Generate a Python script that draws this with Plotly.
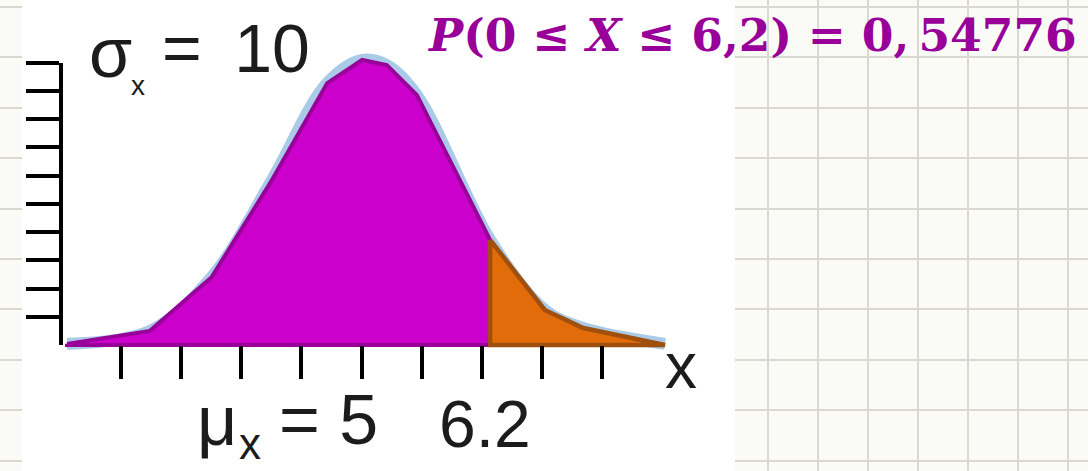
import plotly.graph_objects as go

# ---- data (x in tick units, y in y-tick units) ----
curve_x = [0.10, 1.48, 2.51, 3.51, 4.43, 5.01, 5.42, 5.92, 7.14, 8.05, 8.69, 10.05]
curve_y = [0.04, 0.50, 2.41, 5.84, 9.27, 10.09, 9.91, 8.85, 3.72, 1.24, 0.60, 0.04]
cut_x = 7.14
x_ticks = [1, 2, 3, 4, 5, 6, 7, 8, 9]
y_ticks = [1, 2, 3, 4, 5, 6, 7, 8, 9, 10]

sigma_label = "σ"
sigma_sub = "x"
sigma_value = "=\u00a0\u200910"
mu_label = "μ"
mu_sub = "x"
mu_value = "= 5"
cut_label = "6.2"
axis_label = "x"
prob_text = "<b><i>P</i>(0 ≤ <i>X</i> ≤ 6,2) = 0,\u200954776</b>"

W, H = 1088, 471
X0PX, XUNIT = 61.0, 60.1     # pixel of x=0, pixels per x unit
Y0PX, YUNIT = 345.0, 28.25   # pixel of y=0, pixels per y unit

left_x = [x for x in curve_x if x <= cut_x]
left_y = [y for x, y in zip(curve_x, curve_y) if x <= cut_x]
right_x = [x for x in curve_x if x >= cut_x]
right_y = [y for x, y in zip(curve_x, curve_y) if x >= cut_x]

fig = go.Figure()

# smooth light-blue reference curve underneath
fig.add_trace(go.Scatter(x=curve_x, y=curve_y, mode="lines",
                         line=dict(color="#a9cbe8", width=12, shape="spline", smoothing=1.0),
                         hoverinfo="skip"))
# purple region
fig.add_trace(go.Scatter(x=left_x + [cut_x, left_x[0], left_x[0]],
                         y=left_y + [0, 0, left_y[0]],
                         mode="lines", fill="toself", fillcolor="#cc00cc",
                         line=dict(color="#990099", width=4), hoverinfo="skip"))
# orange tail
fig.add_trace(go.Scatter(x=right_x + [right_x[-1], cut_x, cut_x],
                         y=right_y + [0, 0, right_y[0]],
                         mode="lines", fill="toself", fillcolor="#e36c0a",
                         line=dict(color="#a0500c", width=4.5), hoverinfo="skip"))
# y-axis carrier
fig.add_trace(go.Scatter(x=[None], y=[None], xaxis="x", yaxis="y2", hoverinfo="skip"))
# grid paper carriers
fig.add_trace(go.Scatter(x=[None], y=[None], xaxis="x3", yaxis="y3", hoverinfo="skip"))
fig.add_trace(go.Scatter(x=[None], y=[None], xaxis="x4", yaxis="y4", hoverinfo="skip"))

gridc = "#d9d9d2"
fig.update_layout(
    width=W, height=H, margin=dict(l=0, r=0, t=0, b=0),
    showlegend=False, paper_bgcolor="white", plot_bgcolor="rgba(0,0,0,0)",
    xaxis=dict(domain=[0, 1], range=[-X0PX / XUNIT, (W - X0PX) / XUNIT],
               anchor="free", position=(H - Y0PX) / H,
               tickvals=x_ticks, ticks="outside", ticklen=33, tickwidth=4,
               tickcolor="black", showticklabels=False, showgrid=False,
               zeroline=False, showline=False),
    yaxis=dict(domain=[0, 1], range=[(Y0PX - H) / YUNIT, Y0PX / YUNIT], visible=False),
    yaxis2=dict(domain=[(H - Y0PX) / H, (H - (Y0PX - 10 * YUNIT)) / H], range=[0, 10],
                anchor="free", position=X0PX / W, side="left",
                showline=True, linecolor="black", linewidth=4,
                tickvals=y_ticks, ticks="outside", ticklen=33, tickwidth=4,
                tickcolor="black", showticklabels=False, showgrid=False, zeroline=False),
    xaxis3=dict(domain=[735 / W, 1], range=[735, W], anchor="y3",
                tick0=768, dtick=50, showgrid=True, gridcolor=gridc, gridwidth=1.5,
                showticklabels=False, ticks="", zeroline=False, showline=False),
    yaxis3=dict(domain=[0, 1], range=[H, 0], anchor="x3",
                tick0=7, dtick=50.4, showgrid=True, gridcolor=gridc, gridwidth=1.5,
                showticklabels=False, ticks="", zeroline=False, showline=False),
    xaxis4=dict(domain=[0, 22 / W], range=[0, 22], anchor="y4", showgrid=False,
                showticklabels=False, ticks="", zeroline=False, showline=False),
    yaxis4=dict(domain=[0, 1], range=[H, 0], anchor="x4",
                tick0=7, dtick=50.4, showgrid=True, gridcolor=gridc, gridwidth=1.5,
                showticklabels=False, ticks="", zeroline=False, showline=False),
    shapes=[
        dict(type="rect", xref="paper", yref="paper", x0=735 / W, x1=1, y0=0, y1=1,
             fillcolor="#fafaf6", line=dict(width=0), layer="below"),
        dict(type="rect", xref="paper", yref="paper", x0=0, x1=22 / W, y0=0, y1=1,
             fillcolor="#fafaf6", line=dict(width=0), layer="below"),
    ],
)


def ann(text, px, py, size, family="Liberation Sans", color="#1c1c1c"):
    fig.add_annotation(text=text, x=px / W, y=1 - py / H, xref="paper", yref="paper",
                       xanchor="left", yanchor="middle", showarrow=False,
                       font=dict(family=family, size=size, color=color))


ann(sigma_label, 87, 53, 70)
ann(sigma_sub, 129, 86, 28)
ann(sigma_value, 160, 48, 68)
ann(mu_label, 195, 421, 70)
ann(mu_sub, 237, 443, 44)
ann(mu_value, 277, 420, 70)
ann(cut_label, 437, 424, 66)
ann(axis_label, 663, 366, 64)
ann(prob_text, 425, 35, 45.5, family="DejaVu Serif", color="#990099")

fig.write_html("out.html", config={"displayModeBar": False},
               post_script="document.body.style.margin='0';document.body.style.overflow='hidden';")
